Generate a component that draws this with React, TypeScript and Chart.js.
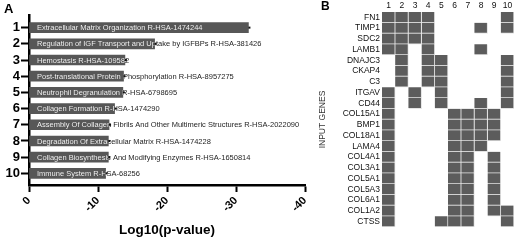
import React, { useEffect, useRef } from 'react';
import { Chart, registerables } from 'chart.js';

Chart.register(...registerables);

const FONT = "'Liberation Sans', Arial, sans-serif";

// Panel A data
const pathwayRanks = [1, 2, 3, 4, 5, 6, 7, 8, 9, 10];
const pathwayNames = [
  'Extracellular Matrix Organization R-HSA-1474244',
  'Regulation of IGF Transport and Uptake by IGFBPs R-HSA-381426',
  'Hemostasis R-HSA-109582',
  'Post-translational Protein Phosphorylation R-HSA-8957275',
  'Neutrophil Degranulation R-HSA-6798695',
  'Collagen Formation R-HSA-1474290',
  'Assembly Of Collagen Fibrils And Other Multimeric Structures R-HSA-2022090',
  'Degradation Of Extracellular Matrix R-HSA-1474228',
  'Collagen Biosynthesis And Modifying Enzymes R-HSA-1650814',
  'Immune System R-HSA-68256',
];
const log10P = [-31.8, -18.2, -13.9, -13.7, -13.6, -12.4, -11.6, -11.5, -11.5, -11.1];
const xAxisMin = -40;
const xAxisMax = 0;
const xAxisStep = 10;

// Panel B data
const columnLabels = [1, 2, 3, 4, 5, 6, 7, 8, 9, 10];
const geneNames = [
  'FN1', 'TIMP1', 'SDC2', 'LAMB1', 'DNAJC3', 'CKAP4', 'C3', 'ITGAV', 'CD44', 'COL15A1',
  'BMP1', 'COL18A1', 'LAMA4', 'COL4A1', 'COL3A1', 'COL5A1', 'COL5A3', 'COL6A1', 'COL1A2', 'CTSS',
];
const geneColumns = [
  [1, 2, 3, 4, 10],
  [1, 2, 3, 4, 8, 10],
  [1, 2, 3, 4],
  [1, 2, 4, 8],
  [2, 4, 5, 10],
  [2, 4, 5, 10],
  [2, 4, 5, 10],
  [1, 3, 5, 10],
  [1, 3, 5, 8, 10],
  [1, 6, 7, 8, 9],
  [1, 6, 7, 8, 9],
  [1, 6, 7, 8, 9],
  [1, 6, 7, 8],
  [1, 6, 7, 9],
  [1, 6, 7, 9],
  [1, 6, 7, 9],
  [1, 6, 7, 9],
  [1, 6, 7, 9],
  [1, 6, 7, 9, 10],
  [1, 5, 6, 7, 10],
];

const zeroPad = (s: any) => {
  s.paddingTop = 0;
  s.paddingBottom = 0;
  s.paddingLeft = 0;
  s.paddingRight = 0;
};

const barLabelPlugin = {
  id: 'barLabels',
  afterDatasetsDraw(chart: any) {
    const ctx = chart.ctx;
    const meta = chart.getDatasetMeta(0);
    const left = chart.chartArea.left;
    ctx.save();
    ctx.font = `7.5px ${FONT}`;
    ctx.textBaseline = 'middle';
    ctx.textAlign = 'left';
    meta.data.forEach((bar: any, i: number) => {
      const { x, y, base, height } = bar.getProps(['x', 'y', 'base', 'height'], true);
      const tx = left + 8;
      const text = pathwayNames[i];
      ctx.fillStyle = '#1e1e1e';
      ctx.fillText(text, tx, y + 0.5);
      ctx.save();
      ctx.beginPath();
      ctx.rect(Math.min(x, base), y - height / 2, Math.abs(x - base), height);
      ctx.clip();
      ctx.fillStyle = '#ffffff';
      ctx.fillText(text, tx, y + 0.5);
      ctx.restore();
      ctx.fillStyle = '#111';
      ctx.fillRect(x, y - 1, 2, 2);
    });
    ctx.font = `bold 13px ${FONT}`;
    ctx.fillStyle = '#000';
    ctx.textBaseline = 'top';
    ctx.fillText('A', 4, 3);
    ctx.restore();
  },
};

const panelBLetterPlugin = {
  id: 'panelB',
  afterDraw(chart: any) {
    const ctx = chart.ctx;
    ctx.save();
    ctx.font = `bold 12px ${FONT}`;
    ctx.fillStyle = '#000';
    ctx.textBaseline = 'top';
    ctx.textAlign = 'left';
    ctx.fillText('B', 3, 1);
    ctx.restore();
  },
};

export default function App() {
  const refA = useRef<HTMLCanvasElement>(null);
  const refB = useRef<HTMLCanvasElement>(null);

  useEffect(() => {
    const chartA = new Chart(refA.current as HTMLCanvasElement, {
      type: 'bar',
      data: {
        datasets: [
          {
            data: pathwayRanks.map((r, i) => ({ x: log10P[i], y: r })) as any,
            backgroundColor: '#575757',
            borderWidth: 0,
            barThickness: 10,
          },
        ],
      },
      options: {
        indexAxis: 'y',
        animation: false,
        responsive: false,
        devicePixelRatio: 1,
        layout: { autoPadding: false, padding: { left: 0, top: 15, right: 13, bottom: 0 } },
        plugins: { legend: { display: false }, tooltip: { enabled: false } },
        scales: {
          y: {
            type: 'linear',
            reverse: true,
            offset: false,
            min: 0.22,
            max: 10.72,
            afterBuildTicks: (s: any) => {
              s.ticks = pathwayRanks.map((v) => ({ value: v }));
            },
            afterFit: (s: any) => {
              s.width = 29;
              zeroPad(s);
            },
            ticks: {
              callback: (v: any) => String(v),
              font: { family: FONT, size: 13, weight: 'bold' },
              color: '#000',
              padding: 1,
              autoSkip: false,
            },
            grid: { offset: false, drawOnChartArea: false, drawTicks: true, tickLength: 8, tickWidth: 2, tickColor: '#000' },
            border: { display: true, color: '#000', width: 2.5 },
          },
          x: {
            type: 'linear',
            reverse: true,
            min: xAxisMin,
            max: xAxisMax,
            afterFit: (s: any) => {
              s.height = 56;
              zeroPad(s);
            },
            ticks: {
              stepSize: xAxisStep,
              minRotation: 45,
              maxRotation: 45,
              autoSkip: false,
              font: { family: FONT, size: 11, weight: 'bold' },
              color: '#000',
              padding: 2,
            },
            grid: { drawOnChartArea: false, drawTicks: true, tickLength: 7, tickWidth: 2, tickColor: '#000' },
            border: { display: true, color: '#000', width: 2.5 },
            title: {
              display: true,
              text: 'Log10(p-value)',
              font: { family: FONT, size: 13.5, weight: 'bold' },
              color: '#000',
              padding: { top: 0, bottom: 3 },
            },
          },
        },
      } as any,
      plugins: [barLabelPlugin],
    });

    const chartB = new Chart(refB.current as HTMLCanvasElement, {
      type: 'bar',
      data: {
        labels: geneNames,
        datasets: columnLabels.map((c) => ({
          data: geneNames.map((_, gi) => (geneColumns[gi].includes(c) ? [c - 0.5, c + 0.5] : null)) as any,
          backgroundColor: '#5c5c5c',
          borderColor: '#e4e4e4',
          borderWidth: { top: 0, left: 0, right: 1, bottom: 1 },
          borderSkipped: false,
          grouped: false,
          barPercentage: 1,
          categoryPercentage: 1,
        })),
      },
      options: {
        indexAxis: 'y',
        animation: false,
        responsive: false,
        devicePixelRatio: 1,
        layout: { autoPadding: false, padding: { left: 0, top: 0, right: 6, bottom: 14 } },
        plugins: { legend: { display: false }, tooltip: { enabled: false } },
        scales: {
          x: {
            type: 'linear',
            position: 'top',
            min: 0.5,
            max: 10.5,
            afterBuildTicks: (s: any) => {
              s.ticks = columnLabels.map((v) => ({ value: v }));
            },
            afterFit: (s: any) => {
              s.height = 12;
              zeroPad(s);
            },
            ticks: {
              callback: (v: any) => String(v),
              font: { family: FONT, size: 8.5 },
              color: '#111',
              padding: 1,
              maxRotation: 0,
              minRotation: 0,
              autoSkip: false,
            },
            grid: { display: false, drawTicks: false },
            border: { display: false },
          },
          y: {
            type: 'category',
            afterFit: (s: any) => {
              s.width = 64;
              zeroPad(s);
            },
            ticks: {
              font: { family: FONT, size: 8.5 },
              color: '#111',
              padding: 2,
              autoSkip: false,
            },
            grid: { display: false, drawTicks: false },
            border: { display: false },
            title: {
              display: true,
              text: 'INPUT GENES',
              font: { family: FONT, size: 8.5 },
              color: '#333',
              padding: 0,
            },
          },
        },
      } as any,
      plugins: [panelBLetterPlugin],
    });

    return () => {
      chartA.destroy();
      chartB.destroy();
    };
  }, []);

  return (
    <div style={{ position: 'absolute', left: 0, top: 0, width: 520, height: 241, background: '#fff' }}>
      <canvas ref={refA} width={318} height={241} style={{ position: 'absolute', left: 0, top: 0 }} />
      <canvas ref={refB} width={202} height={241} style={{ position: 'absolute', left: 318, top: 0 }} />
    </div>
  );
}
